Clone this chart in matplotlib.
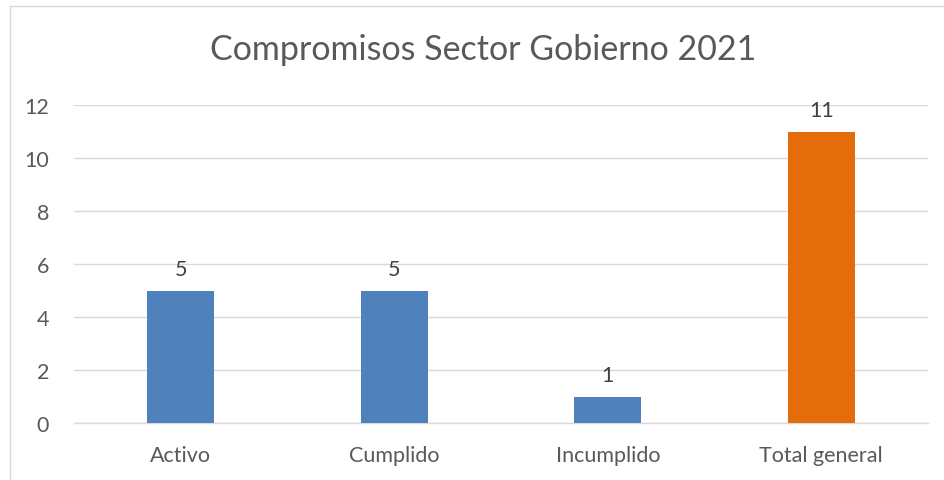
import matplotlib
matplotlib.use("Agg")
import matplotlib.pyplot as plt
from matplotlib.lines import Line2D

categories = ["Activo", "Cumplido", "Incumplido", "Total general"]
values = [5, 5, 1, 11]
bar_colors = ["#4F81BD", "#4F81BD", "#4F81BD", "#E46C0A"]
title = "Compromisos Sector Gobierno 2021"
yticks = [0, 2, 4, 6, 8, 10, 12]

plt.rcParams['font.family'] = ['Lato', 'DejaVu Sans']
txt = "#595959"

fig = plt.figure(figsize=(9.44, 4.81), dpi=100)
ax = fig.add_axes([74/944, 1-424/481, 854/944, (424-106)/481])

x = list(range(len(categories)))
bars = ax.bar(x, values, width=0.314, color=bar_colors, zorder=3)
for xi, v in zip(x, values):
    ax.annotate(str(v), (xi, v), xytext=(0, 8.5), textcoords="offset points",
                ha="center", va="bottom", fontsize=15.5, color="#404040")

ax.set_xlim(-0.5, len(categories) - 0.5)
ax.set_ylim(0, 12)
ax.set_yticks(yticks)
ax.set_xticks(x)
ax.set_xticklabels(categories)
ax.tick_params(axis="both", length=0, labelsize=15.5, colors=txt)
ax.tick_params(axis="x", pad=16)
ax.tick_params(axis="y", pad=18)
ax.grid(axis="y", color="#D9D9D9", linewidth=1, zorder=0)
for s in ["top", "right", "left"]:
    ax.spines[s].set_visible(False)
ax.spines["bottom"].set_color("#D9D9D9")
ax.spines["bottom"].set_linewidth(1)

fig.text(483/944, 1-50/481, title, ha="center", va="center", fontsize=24.5, color=txt)

fig.add_artist(Line2D([10/944, 1], [1-7/481, 1-7/481], color="#D9D9D9", lw=1, transform=fig.transFigure))
fig.add_artist(Line2D([10/944, 10/944], [0, 1-7/481], color="#D9D9D9", lw=1, transform=fig.transFigure))

fig.savefig("out.png", dpi=100)
